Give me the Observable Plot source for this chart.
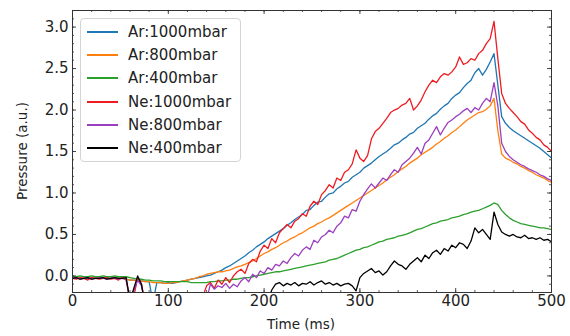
<!DOCTYPE html>
<html>
<head>
<meta charset="utf-8">
<script src="https://cdn.jsdelivr.net/npm/d3@7"></script>
<script src="https://cdn.jsdelivr.net/npm/@observablehq/plot@0.6"></script>
<style>
  html, body { margin: 0; padding: 0; background: #fff; }
  #wrap { position: relative; width: 570px; height: 336px; font-family: "DejaVu Sans", sans-serif; color: #222; }
  #legend { position: absolute; left: 80px; top: 18px; width: 161px; height: 144px; box-sizing: border-box;
            border: 1px solid #d4d4d4; border-radius: 4px; background: rgba(255,255,255,0.85); }
  .row { position: absolute; left: 0; height: 20px; width: 100%; }
  .sw { position: absolute; left: 6px; top: 9px; width: 31px; height: 2px; }
  .lab { position: absolute; left: 47px; top: 0; font-size: 15px; line-height: 20px; white-space: nowrap; color: #222; }
  .xtitle { position: absolute; left: 0; width: 602px; top: 316px; text-align: center; font-size: 13.5px; }
  .ytitle { position: absolute; left: 22px; top: 151px; font-size: 13.5px; white-space: nowrap;
            transform: translate(-50%, -50%) rotate(-90deg); }
</style>
</head>
<body>
<div id="wrap"></div>
<script>
// ---- data ----
const seriesNames = ["Ar:1000mbar", "Ar:800mbar", "Ar:400mbar", "Ne:1000mbar", "Ne:800mbar", "Ne:400mbar"];
const seriesColors = ["#1f77b4", "#ff7f0e", "#2ca02c", "#ee1c22", "#9b3fbf", "#000000"];
const timeMs = d3.range(0, 501, 4); // 0,4,...,500

const ar1000 = [
  -0.03,-0.03,-0.02,-0.03,-0.03,-0.02,-0.03,-0.03,-0.03,-0.02,
  -0.03,-0.03,-0.03,-0.02,-0.04,-0.05,-0.05,-0.06,-0.06,-0.07,
  -0.07,-0.32,-0.08,-0.08,-0.09,-0.08,-0.09,-0.08,-0.07,-0.06,
  -0.05,-0.04,-0.03,-0.02,-0.01,0.0,0.01,0.03,0.05,0.07,
  0.1,0.12,0.15,0.18,0.21,0.24,0.28,0.31,0.35,0.38,
  0.41,0.45,0.48,0.51,0.54,0.57,0.61,0.64,0.68,0.71,
  0.74,0.79,0.8,0.85,0.89,0.9,0.95,0.99,1.0,1.05,
  1.08,1.12,1.14,1.19,1.22,1.25,1.3,1.33,1.36,1.4,
  1.44,1.47,1.5,1.54,1.58,1.6,1.64,1.67,1.71,1.73,
  1.78,1.81,1.84,1.89,1.93,1.96,2.01,2.05,2.08,2.14,
  2.18,2.21,2.27,2.32,2.36,2.45,2.5,2.42,2.49,2.58,
  2.68,2.3,1.92,1.84,1.79,1.75,1.72,1.69,1.66,1.63,
  1.6,1.57,1.54,1.5,1.46,1.42
];
const ar800 = [
  -0.03,-0.02,-0.03,-0.03,-0.02,-0.03,-0.03,-0.02,-0.03,-0.03,
  -0.03,-0.02,-0.03,-0.03,-0.04,-0.05,-0.05,-0.06,-0.06,-0.07,
  -0.07,-0.08,-0.08,-0.08,-0.09,-0.09,-0.08,-0.08,-0.07,-0.06,
  -0.05,-0.04,-0.03,-0.01,0.0,0.02,0.03,0.04,0.05,0.05,
  0.06,0.07,0.09,0.11,0.12,0.14,0.16,0.18,0.21,0.24,
  0.27,0.29,0.32,0.34,0.37,0.4,0.42,0.45,0.47,0.5,
  0.52,0.55,0.58,0.6,0.63,0.65,0.68,0.7,0.73,0.76,
  0.79,0.82,0.85,0.88,0.91,0.94,0.97,1.0,1.03,1.06,
  1.09,1.12,1.16,1.19,1.22,1.26,1.29,1.32,1.36,1.39,
  1.42,1.46,1.49,1.52,1.55,1.59,1.62,1.66,1.69,1.73,
  1.76,1.8,1.84,1.88,1.91,1.94,1.97,1.98,2.01,2.05,
  2.14,1.75,1.47,1.42,1.4,1.37,1.35,1.32,1.3,1.27,
  1.25,1.22,1.2,1.18,1.15,1.13
];
const ar400 = [
  -0.01,-0.01,0.0,-0.01,-0.01,0.0,-0.01,-0.01,0.0,-0.01,
  -0.01,0.0,-0.01,-0.01,-0.01,-0.02,-0.03,-0.04,-0.04,-0.05,
  -0.05,-0.06,-0.06,-0.06,-0.07,-0.07,-0.07,-0.07,-0.07,-0.07,
  -0.07,-0.08,-0.08,-0.08,-0.08,-0.08,-0.07,-0.07,-0.06,-0.06,
  -0.05,-0.05,-0.04,-0.04,-0.03,-0.02,-0.02,-0.01,0.0,0.01,
  0.02,0.03,0.04,0.05,0.05,0.06,0.07,0.08,0.09,0.1,
  0.11,0.12,0.13,0.14,0.15,0.16,0.17,0.19,0.2,0.21,
  0.23,0.25,0.27,0.29,0.31,0.32,0.34,0.35,0.37,0.39,
  0.41,0.42,0.44,0.45,0.46,0.48,0.49,0.5,0.52,0.54,
  0.56,0.57,0.59,0.61,0.63,0.64,0.66,0.67,0.68,0.7,
  0.71,0.72,0.74,0.75,0.77,0.78,0.79,0.81,0.83,0.85,
  0.88,0.86,0.79,0.74,0.7,0.67,0.65,0.63,0.62,0.61,
  0.6,0.59,0.58,0.58,0.57,0.56
];
const ne1000 = [
  -0.03,-0.04,-0.02,-0.03,-0.05,-0.02,-0.03,-0.04,-0.03,-0.02,
  -0.04,-0.03,-0.05,-0.02,-0.05,-0.3,-0.25,-0.02,-0.1,-0.35,
  -0.4,-0.38,-0.42,-0.4,-0.39,-0.41,-0.4,-0.38,-0.4,-0.39,
  -0.38,-0.36,-0.35,-0.3,-0.25,-0.12,-0.08,-0.15,-0.05,-0.1,
  -0.02,-0.08,0.0,0.05,0.08,0.03,0.15,0.2,0.17,0.3,
  0.37,0.33,0.45,0.4,0.52,0.57,0.62,0.58,0.66,0.69,
  0.75,0.72,0.84,0.9,0.86,0.98,1.03,1.1,1.06,1.18,
  1.15,1.25,1.28,1.35,1.52,1.42,1.38,1.45,1.65,1.74,
  1.78,1.84,1.9,1.97,2.0,2.02,2.06,2.08,2.14,2.0,
  2.05,2.12,2.22,2.3,2.36,2.33,2.4,2.44,2.42,2.46,
  2.52,2.64,2.55,2.57,2.62,2.6,2.68,2.72,2.8,2.86,
  3.07,2.62,2.2,2.08,2.02,1.97,1.92,1.86,1.83,1.76,
  1.72,1.67,1.64,1.58,1.55,1.5
];
const ne800 = [
  -0.03,-0.02,-0.04,-0.03,-0.02,-0.04,-0.03,-0.02,-0.03,-0.04,
  -0.03,-0.02,-0.04,-0.03,-0.04,-0.28,-0.18,-0.05,-0.12,-0.3,
  -0.35,-0.38,-0.4,-0.39,-0.4,-0.41,-0.4,-0.39,-0.4,-0.38,
  -0.4,-0.39,-0.37,-0.36,-0.33,-0.28,-0.1,-0.16,-0.12,-0.14,
  -0.09,-0.15,-0.1,-0.13,-0.06,-0.02,-0.07,0.02,-0.02,0.06,
  0.03,0.1,0.07,0.14,0.12,0.18,0.15,0.22,0.27,0.24,
  0.31,0.35,0.32,0.43,0.4,0.47,0.5,0.55,0.52,0.6,
  0.64,0.72,0.7,0.8,0.78,0.9,0.98,1.05,1.11,1.06,
  1.12,1.18,1.15,1.22,1.28,1.25,1.34,1.38,1.42,1.48,
  1.55,1.47,1.6,1.64,1.72,1.8,1.7,1.78,1.85,1.88,
  1.92,1.95,1.99,2.02,1.97,2.03,2.0,2.08,2.14,2.1,
  2.33,2.05,1.6,1.5,1.44,1.4,1.37,1.34,1.32,1.29,
  1.27,1.25,1.22,1.2,1.17,1.15
];
const ne400 = [
  -0.03,-0.02,-0.04,-0.03,-0.02,-0.04,-0.03,-0.03,-0.02,-0.04,
  -0.03,-0.02,-0.03,-0.03,-0.02,-0.3,-0.15,0.0,-0.1,-0.4,
  -0.4,-0.4,-0.4,-0.4,-0.4,-0.4,-0.4,-0.4,-0.4,-0.4,
  -0.4,-0.4,-0.4,-0.4,-0.4,-0.4,-0.4,-0.4,-0.4,-0.4,
  -0.4,-0.4,-0.4,-0.4,-0.4,-0.4,-0.4,-0.4,-0.4,-0.4,
  -0.4,-0.3,-0.17,-0.1,-0.08,-0.12,-0.09,-0.11,-0.08,-0.12,
  -0.09,-0.1,-0.07,-0.11,-0.08,-0.06,-0.1,-0.08,-0.11,-0.09,
  -0.12,-0.1,-0.09,-0.12,-0.18,-0.02,0.03,0.06,0.09,0.04,
  0.06,0.01,0.05,0.12,0.18,0.14,0.12,0.08,0.14,0.18,
  0.22,0.17,0.25,0.21,0.28,0.31,0.26,0.33,0.3,0.37,
  0.34,0.4,0.38,0.33,0.42,0.58,0.52,0.56,0.5,0.44,
  0.77,0.62,0.53,0.5,0.48,0.5,0.47,0.46,0.49,0.45,
  0.46,0.44,0.46,0.43,0.44,0.41
];
const seriesValues = [ar1000, ar800, ar400, ne1000, ne800, ne400];

const xMajor = [0, 100, 200, 300, 400, 500];
const xMinor = d3.range(0, 501, 20);
const yMajor = [0.0, 0.5, 1.0, 1.5, 2.0, 2.5, 3.0];
const yMinor = d3.range(-0.2, 3.21, 0.1).map(v => Math.round(v * 10) / 10);
const xTitle = "Time (ms)";
const yTitle = "Pressure (a.u.)";

// ---- build ----
const W = 570, H = 336;
const mL = 72, mR = 19, mT = 10, mB = 44;
const fw = W - mL - mR, fh = H - mT - mB;

const rows = [];
seriesNames.forEach((name, s) => {
  seriesValues[s].forEach((v, i) => rows.push({series: name, t: timeMs[i], v}));
});

const tickStroke = "#333";
const marks = [];
seriesNames.forEach((name, s) => {
  marks.push(Plot.line(rows.filter(r => r.series === name), {
    x: "t", y: "v", stroke: seriesColors[s], strokeWidth: 1.3, clip: true
  }));
});
marks.push(
  Plot.tickX(xMinor, {x: d => d, insetTop: fh - 2, stroke: tickStroke, strokeWidth: 0.8}),
  Plot.tickX(xMinor, {x: d => d, insetBottom: fh - 2, stroke: tickStroke, strokeWidth: 0.8}),
  Plot.tickX(xMajor, {x: d => d, insetTop: fh - 4, stroke: tickStroke, strokeWidth: 0.9}),
  Plot.tickX(xMajor, {x: d => d, insetBottom: fh - 4, stroke: tickStroke, strokeWidth: 0.9}),
  Plot.tickY(yMinor, {y: d => d, insetRight: fw - 2, stroke: tickStroke, strokeWidth: 0.8}),
  Plot.tickY(yMinor, {y: d => d, insetLeft: fw - 2, stroke: tickStroke, strokeWidth: 0.8}),
  Plot.tickY(yMajor, {y: d => d, insetRight: fw - 4, stroke: tickStroke, strokeWidth: 0.9}),
  Plot.tickY(yMajor, {y: d => d, insetLeft: fw - 4, stroke: tickStroke, strokeWidth: 0.9}),
  Plot.frame({stroke: tickStroke, strokeWidth: 1}),
  Plot.axisX(xMajor, {tickSize: 0, tickPadding: 3, label: null, fontSize: 15}),
  Plot.axisY(yMajor, {tickSize: 0, tickPadding: 4, label: null, fontSize: 15, tickFormat: d3.format(".1f")})
);

const chart = Plot.plot({
  width: W, height: H,
  marginLeft: mL, marginRight: mR, marginTop: mT, marginBottom: mB,
  x: {domain: [0, 500]},
  y: {domain: [-0.2, 3.2]},
  style: {fontFamily: "DejaVu Sans, sans-serif", fontSize: "15px", color: "#222", background: "#fff"},
  marks
});

const wrap = document.getElementById("wrap");
wrap.appendChild(chart);

const legend = document.createElement("div");
legend.id = "legend";
seriesNames.forEach((name, s) => {
  const row = document.createElement("div");
  row.className = "row";
  row.style.top = Math.round(13 + s * 23.2 - 10) + "px";
  const sw = document.createElement("div");
  sw.className = "sw";
  sw.style.background = seriesColors[s];
  const lab = document.createElement("div");
  lab.className = "lab";
  lab.textContent = name;
  row.appendChild(sw); row.appendChild(lab);
  legend.appendChild(row);
});
wrap.appendChild(legend);

const xt = document.createElement("div");
xt.className = "xtitle"; xt.textContent = xTitle;
wrap.appendChild(xt);
const yt = document.createElement("div");
yt.className = "ytitle"; yt.textContent = yTitle;
wrap.appendChild(yt);
</script>
</body>
</html>
